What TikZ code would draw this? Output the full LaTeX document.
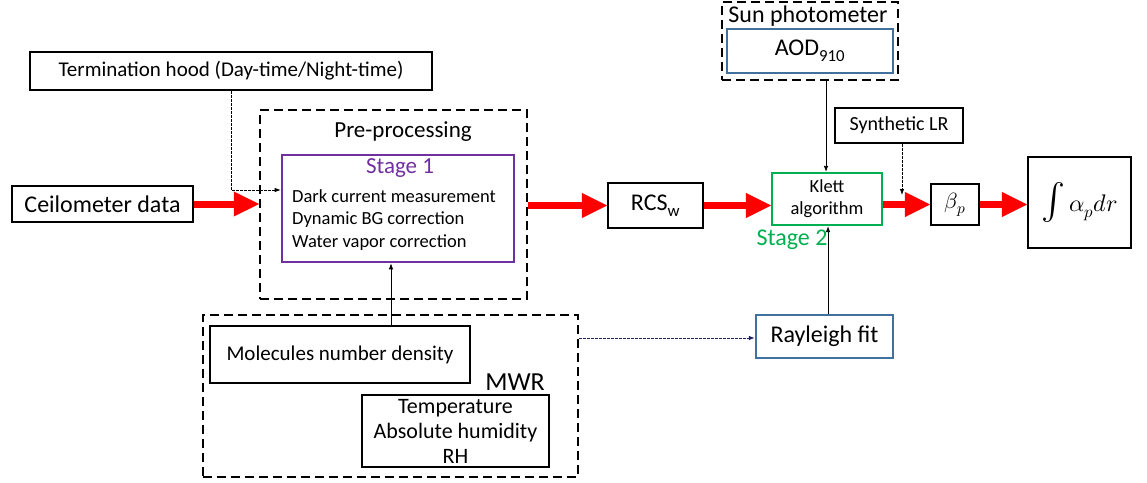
\documentclass[tikz,border=0pt]{standalone}
\usepackage{unicode-math}
\setmainfont{Carlito}
\setmathfont{Latin Modern Math}
\usetikzlibrary{arrows.meta}
\definecolor{stagepurple}{HTML}{7030A0}
\definecolor{stagegreen}{HTML}{00B050}
\definecolor{boxblue}{HTML}{41719C}
\definecolor{linknavy}{HTML}{1F1F66}
\newcommand{\fs}[1]{\fontsize{#1}{#1}\selectfont}
\begin{document}
\begin{tikzpicture}[x=1pt, y=-1pt,
  box/.style={draw, line width=2.2pt, inner sep=0pt, align=center},
  groupbox/.style={draw, line width=2.4pt, dash pattern=on 9pt off 5pt, inner sep=0pt},
  bigarrow/.style={draw=red, line width=7pt, -{Triangle[length=26pt,width=23pt]}, shorten >=-1pt},
  thin/.style={line width=0.8pt, -{Latex[length=6pt,width=4.5pt]}},
  thindash/.style={thin, dash pattern=on 2.5pt off 1.5pt}]
  \useasboundingbox (0,0) rectangle (1147,482);

  % group frames
  \node[groupbox, minimum width=267pt, minimum height=189pt] (pre) at (393.5,204.5) {};
  \node[groupbox, minimum width=176pt, minimum height=78pt] (sun) at (810,41) {};
  \node[groupbox, minimum width=375pt, minimum height=162pt] (mwr) at (390.5,396) {};
  \node[font=\fs{23}] (prelbl) at (403,132) {Pre-processing};
  \node[font=\fs{24}] (sunlbl) at (808,16) {Sun photometer};
  \node[font=\fs{26}] (mwrlbl) at (515,382) {MWR};

  % boxes
  \node[box, minimum width=402pt, minimum height=38pt, font=\fs{21}] (term) at (231,71) {Termination hood (Day-time/Night-time)};
  \node[box, minimum width=181pt, minimum height=36pt, font=\fs{24}] (ceil) at (102.5,204) {Ceilometer data};
  \node[box, draw=stagepurple, line width=2.6pt, minimum width=232pt, minimum height=107pt] (stage1) at (398,208.5) {};
  \node[text=stagepurple, font=\fs{23}] (stage1lbl) at (400,168) {Stage 1};
  \node[anchor=north west, align=left, inner sep=0pt, font=\fontsize{18.5}{22.5}\selectfont] (steps) at (292,189)
    {Dark current measurement\\Dynamic BG correction\\Water vapor correction};
  \node[box, minimum width=95pt, minimum height=45pt, font=\fs{24}] (rcs) at (655.5,205.5) {RCS\textsubscript{w}};
  \node[box, draw=boxblue, minimum width=166pt, minimum height=44pt, font=\fs{24}] (aod) at (810,51) {AOD\textsubscript{910}};
  \node[box, minimum width=128pt, minimum height=35pt, font=\fs{20}] (synth) at (899,125.5) {Synthetic LR};
  \node[box, draw=stagegreen, minimum width=110pt, minimum height=52pt, font=\fontsize{18.5}{22}\selectfont] (klett) at (827,199) {Klett\\algorithm};
  \node[text=stagegreen, font=\fs{24}] (stage2lbl) at (792,240) {Stage 2};
  \node[box, minimum width=48pt, minimum height=41pt, font=\fs{22}] (beta) at (955,204.5) {$\beta_p$};
  \node[box, minimum width=103pt, minimum height=91pt, font=\fs{24}] (integ) at (1079.5,202.5)
    {{\fontsize{36}{36}\selectfont$\int$}$\,\alpha_p dr$};
  \node[box, minimum width=260pt, minimum height=57pt, font=\fs{21}] (mol) at (340,354.5) {Molecules number density};
  \node[box, minimum width=187pt, minimum height=72pt, font=\fontsize{22}{25}\selectfont] (temp) at (455.5,431) {Temperature\\Absolute humidity\\RH};
  \node[box, draw=boxblue, minimum width=137pt, minimum height=43pt, font=\fs{24}] (ray) at (824.5,336.5) {Rayleigh fit};

  % main data flow
  \draw[bigarrow] (ceil.east) -- (ceil.east -| pre.west);
  \draw[bigarrow] (pre.east |- rcs.west) -- (rcs.west);
  \draw[bigarrow] (rcs.east) -- (rcs.east -| klett.west);
  \draw[bigarrow] (klett.east |- beta.west) -- (beta.west);
  \draw[bigarrow] (beta.east) -- (beta.east -| integ.west);

  % auxiliary inputs
  \draw[thindash] (term.south) |- ([yshift=18.5pt]stage1.west);
  \draw[thin] ([xshift=51pt]mol.north) -- ([xshift=51pt]mol.north |- stage1.south);
  \draw[thin] ([xshift=-1pt]klett.north |- sun.south) -- ([xshift=-1pt]klett.north);
  \coordinate (lrend) at (902,195);
  \draw[thindash] (synth.south -| lrend) -- (lrend);
  \draw[thin] ([xshift=1pt]klett.south |- ray.north) -- ([xshift=1pt]klett.south);
  \draw[thindash, draw=linknavy, line width=1pt] ([yshift=-1.5pt]ray.west -| mwr.east) -- ([yshift=-1.5pt]ray.west);
\end{tikzpicture}
\end{document}
